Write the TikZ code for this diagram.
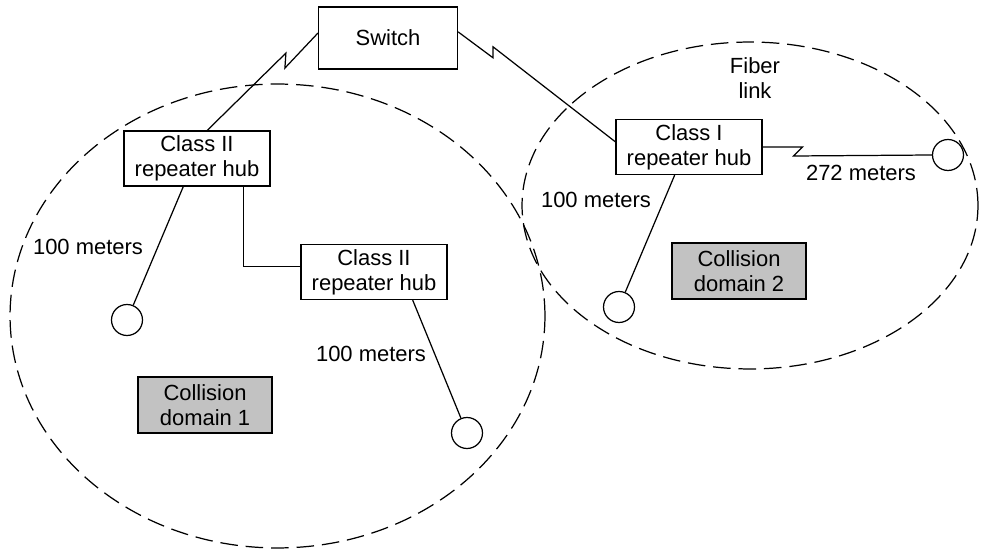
\documentclass[tikz,border=0pt]{standalone}
\usepackage{fontspec}
\setmainfont{Liberation Sans}
\usepackage{xcolor}
\definecolor{domgray}{gray}{0.76}

\begin{document}
\begin{tikzpicture}[
  x=0.02cm, y=-0.02cm,
  font=\fontsize{12.5pt}{14.2pt}\selectfont,
  line width=0.7pt,
  box/.style={draw,minimum width=2.92cm,minimum height=1.1cm,inner sep=0pt,align=center},
  dom/.style={box,fill=domgray,minimum width=2.68cm,minimum height=1.12cm},
  station/.style={draw,circle,minimum size=0.62cm,inner sep=0pt},
  zone/.style={dash pattern=on 10pt off 4.5pt},
  lbl/.style={align=center},
]
  \useasboundingbox (0,0) rectangle (981,550);

  % switch and hubs
  \node[box,minimum width=2.78cm,minimum height=1.24cm] (switch) at (388,38)  {Switch};
  \node[box] (hub1)  at (197,158.5) {Class II\\repeater hub};
  \node[box] (hub2)  at (374,272)   {Class II\\repeater hub};
  \node[box] (hubI)  at (689,147)   {Class I\\repeater hub};

  % stations
  \node[station] (st1) at (127,320) {};
  \node[station] (st2) at (467,433) {};
  \node[station] (st3) at (948,155) {};
  \node[station] (st4) at (619,307) {};

  % domains
  \node[dom] (dom1) at (205,405) {Collision\\domain 1};
  \node[dom] (dom2) at (739,271) {Collision\\domain 2};

  % labels
  \node (len1)  at (88,247)  {100 meters};
  \node (len2)  at (371,354) {100 meters};
  \node (len3)  at (596,200) {100 meters};
  \node (len4)  at (861,173) {272 meters};
  \node[lbl] (fiber) at (755,78) {Fiber\\link};

  % collision domains
  \draw[zone] (277.5,316) ellipse [x radius=5.35cm, y radius=4.64cm];
  \draw[zone] (750,205.5) ellipse [x radius=4.56cm, y radius=3.27cm];

  \draw (switch.176) -- ++(-33,35) -- ++(1,-15) -- (hub1.70);
  \draw (switch.5) -- ++(35,26) -- ++(0,-11) -- (hubI.176);
  \draw (hubI.east) -- ++(40,0) -- ++(-9,9) -- (st3.west);
  \draw (hub1.244) -- (st1);
  \draw (hub1.329) |- (hub2.176);
  \draw (hub2.324) -- (st2);
  \draw (hubI.243) -- (st4);
\end{tikzpicture}
\end{document}
